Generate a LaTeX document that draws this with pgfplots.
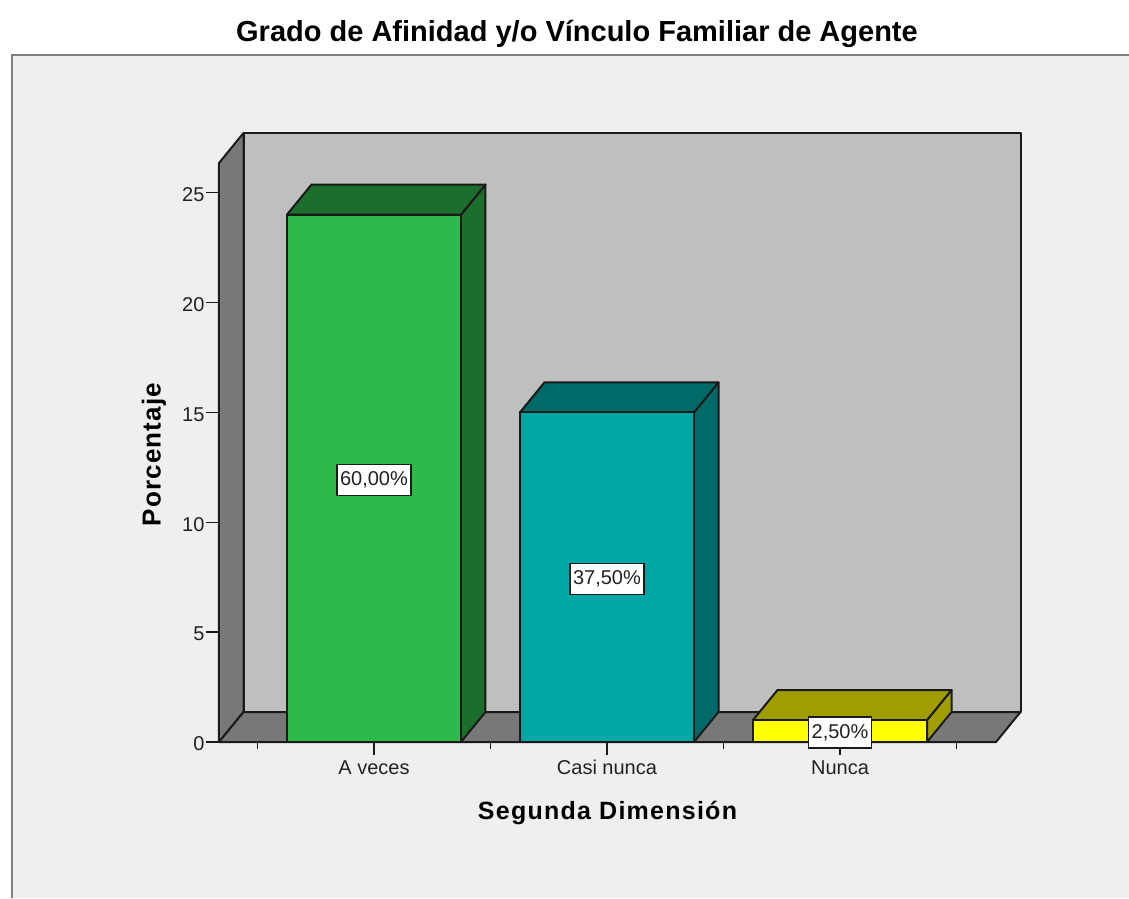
\documentclass[border=0pt]{standalone}
\usepackage{pgfplots}
\pgfplotsset{compat=1.18}
\usepackage{fontspec}
\setmainfont{Liberation Sans}
\definecolor{panel}{HTML}{EFEFEF}
\definecolor{frameg}{HTML}{7F7F7F}
\definecolor{wallb}{HTML}{BFBFBF}
\definecolor{walls}{HTML}{787878}
\definecolor{edge}{HTML}{1A1A1A}
\definecolor{txt}{HTML}{222222}
\definecolor{gfront}{HTML}{2EB94B}
\definecolor{gside}{HTML}{1C6E2D}
\definecolor{tfront}{HTML}{00A7A5}
\definecolor{tside}{HTML}{006A68}
\definecolor{yfront}{HTML}{FFFF00}
\definecolor{yside}{HTML}{A09D00}
\begin{document}
\begin{tikzpicture}[x=1pt,y=1pt]
\useasboundingbox (-219,-156) rectangle (910,742);
\fill[white] (-219,-156) rectangle (910,742);
\fill[panel] (-207,-156) rectangle (910,687);
\draw[frameg,line width=2.6pt] (-207,-156) -- (-207,687) -- (910,687);
\begin{axis}[
  at={(0pt,0pt)}, anchor=south west,
  scale only axis, width=777pt, height=579pt,
  xmin=-0.665, xmax=2.6695, ymin=0, ymax=26.35,
  clip=false,
  axis line style={draw=none},
  xtick={0,1,2},
  xticklabels={A veces,Casi nunca,Nunca},
  minor xtick={-0.5,0.5,1.5,2.5},
  ytick={0,5,10,15,20,25},
  xtick pos=bottom, ytick pos=left, tick align=outside,
  major tick length=13pt, minor tick length=7pt,
  every tick/.style={edge,line width=1.3pt},
  minor tick style={edge,line width=1.2pt},
  /pgf/number format/assume math mode=true,
  tick label style={font=\fontsize{20}{22}\selectfont,text=txt},
  xticklabel style={yshift=-2pt,text height=14pt,text depth=0pt},
  yticklabel style={xshift=2pt,yshift=-2pt},
  title={\fontsize{29}{32}\selectfont\bfseries Grado de Afinidad y/o Vínculo Familiar de Agente},
  title style={at={(axis description cs:0.4607,1.2125)},anchor=center,text=black,inner sep=0pt},
  xlabel={\fontsize{25}{28}\selectfont\bfseries\addfontfeature{LetterSpace=5} Segunda Dimensión},
  xlabel style={at={(axis description cs:0.5,-0.1225)},anchor=center,text=black,inner sep=0pt},
  ylabel={\fontsize{26}{28}\selectfont\bfseries\addfontfeature{LetterSpace=4.3} Porcentaje},
  ylabel style={at={(axis description cs:-0.0837,0.4965)},anchor=center,rotate=0,text=black,inner sep=0pt},
]
% back wall, left wall, floor
\addplot[fill=wallb,draw=edge,line width=2pt,line join=round] coordinates {(-0.5598,1.3655)(2.7747,1.3655)(2.7747,27.715)(-0.5598,27.715)(-0.5598,1.3655)};
\addplot[fill=walls,draw=edge,line width=2pt,line join=round] coordinates {(-0.665,0)(-0.5598,1.3655)(-0.5598,27.715)(-0.665,26.35)(-0.665,0)};
\addplot[fill=walls,draw=edge,line width=2pt,line join=round] coordinates {(-0.665,0)(2.6695,0)(2.7747,1.3655)(-0.5598,1.3655)(-0.665,0)};
% A veces
\addplot[fill=gside,draw=edge,line width=2pt,line join=round] coordinates {(0.3734,0)(0.4786,1.3655)(0.4786,25.3655)(0.3734,24)(0.3734,0)};
\addplot[fill=gside,draw=edge,line width=2pt,line join=round] coordinates {(-0.3734,24)(0.3734,24)(0.4786,25.3655)(-0.2682,25.3655)(-0.3734,24)};
\addplot[ybar,bar width=174pt,fill=gfront,draw=edge,line width=2pt] coordinates {(0,24)};
% Casi nunca
\addplot[fill=tside,draw=edge,line width=2pt,line join=round] coordinates {(1.3734,0)(1.4786,1.3655)(1.4786,16.3655)(1.3734,15)(1.3734,0)};
\addplot[fill=tside,draw=edge,line width=2pt,line join=round] coordinates {(0.6266,15)(1.3734,15)(1.4786,16.3655)(0.7318,16.3655)(0.6266,15)};
\addplot[ybar,bar width=174pt,fill=tfront,draw=edge,line width=2pt] coordinates {(1,15)};
% Nunca
\addplot[fill=yside,draw=edge,line width=2pt,line join=round] coordinates {(2.3734,0)(2.4786,1.3655)(2.4786,2.3655)(2.3734,1)(2.3734,0)};
\addplot[fill=yside,draw=edge,line width=2pt,line join=round] coordinates {(1.6266,1)(2.3734,1)(2.4786,2.3655)(1.7318,2.3655)(1.6266,1)};
\addplot[ybar,bar width=174pt,fill=yfront,draw=edge,line width=2pt] coordinates {(2,1)};
% data labels
\addplot[draw=none,mark=none,
  point meta=explicit symbolic,
  nodes near coords,
  every node near coord/.append style={anchor=center,fill=white,draw=edge,line width=1.3pt,
    font=\fontsize{20}{22}\selectfont,text=txt,inner xsep=3pt,inner ysep=0pt,minimum height=31pt,yshift=-1.5pt},
] coordinates {(0,12)[60,00\%] (1,7.5)[37,50\%] (2,0.5)[2,50\%]};
\end{axis}
\end{tikzpicture}
\end{document}
